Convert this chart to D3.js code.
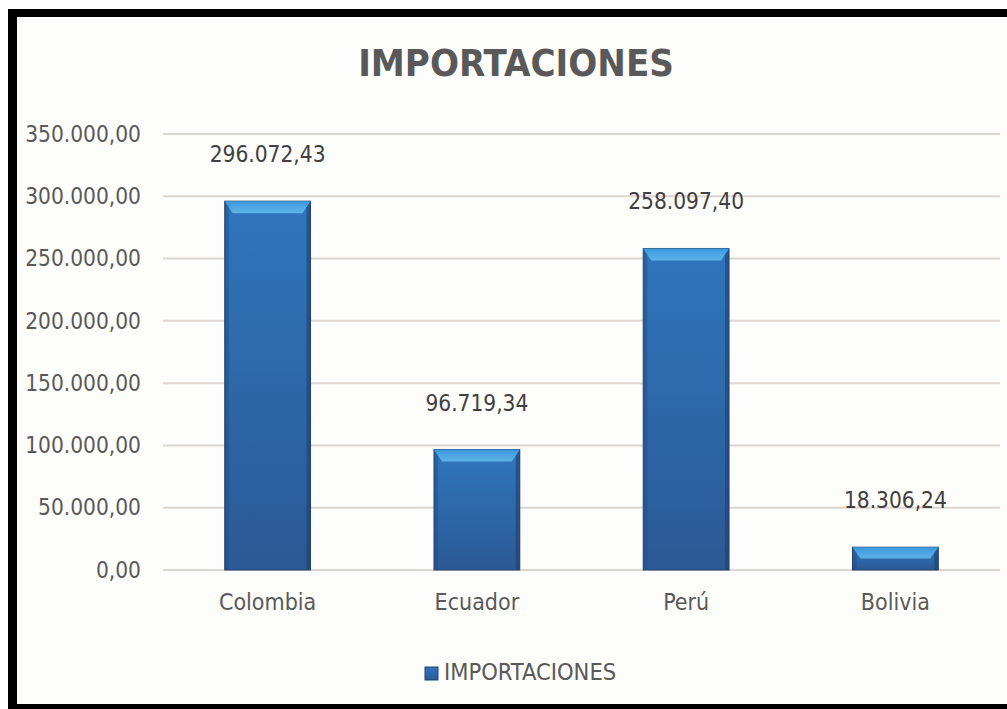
<!DOCTYPE html>
<html><head><meta charset="utf-8">
<script src="https://cdn.jsdelivr.net/npm/d3@7"></script>
<style>
html,body{margin:0;padding:0;background:#fff;}
svg{display:block;}
text{font-family:"Liberation Sans Narrow","DejaVu Sans Condensed","Open Sans",sans-serif;}
</style></head><body>
<svg id="c" width="1007" height="709"></svg>
<script>
const categories = ["Colombia","Ecuador","Perú","Bolivia"];
const values = [296072.43, 96719.34, 258097.40, 18306.24];
const yTicks = [0,50000,100000,150000,200000,250000,300000,350000];
const title = "IMPORTACIONES";
const seriesName = "IMPORTACIONES";

const svg = d3.select("#c");
const W = 1007, H = 709;
const fmt = d3.formatLocale({decimal:",",thousands:".",grouping:[3],currency:["",""]}).format(",.2f");

// frame
svg.append("rect").attr("x",0).attr("y",0).attr("width",W).attr("height",H).attr("fill","#fff");
svg.append("rect").attr("x",8).attr("y",9).attr("width",W-8).attr("height",H-9).attr("fill","#000");
svg.append("rect").attr("x",17).attr("y",17).attr("width",W-17).attr("height",704-17).attr("fill","#fdfdfb");

const m = {left:163, right:1000, top:134, bottom:570};
const x = d3.scaleBand().domain(categories).range([m.left,m.right]).paddingInner(0.59).paddingOuter(0.295);
const y = d3.scaleLinear().domain([0,350000]).range([m.bottom,m.top]);

// gridlines
svg.append("g").selectAll("line").data(yTicks).join("line")
  .attr("x1",m.left).attr("x2",m.right)
  .attr("y1",d=>y(d)).attr("y2",d=>y(d))
  .attr("stroke","#dcd6d0").attr("stroke-width",2);

// y axis labels
const yAxis = d3.axisLeft(y).tickValues(yTicks).tickFormat(fmt).tickSize(0).tickPadding(0);
const ya = svg.append("g").attr("transform",`translate(${m.left-22},0)`).call(yAxis);
ya.select(".domain").remove();
ya.selectAll("text").attr("fill","#595959").style("font-size","22.5px")
  .style("font-family",'"Liberation Sans Narrow","DejaVu Sans Condensed",sans-serif');

// gradients
const defs = svg.append("defs");
const g1 = defs.append("linearGradient").attr("id","barg").attr("x1",0).attr("y1",0).attr("x2",0).attr("y2",1);
g1.append("stop").attr("offset","0%").attr("stop-color","#2f76bd");
g1.append("stop").attr("offset","100%").attr("stop-color","#2b5995");
const g2 = defs.append("linearGradient").attr("id","bevel").attr("x1",0).attr("y1",0).attr("x2",0).attr("y2",1);
g2.append("stop").attr("offset","0%").attr("stop-color","#3c98dc");
g2.append("stop").attr("offset","100%").attr("stop-color","#5eb3ea");

const bars = svg.append("g").selectAll("g").data(categories).join("g");
const bw = x.bandwidth();
bars.append("rect")
  .attr("x",d=>x(d)).attr("y",(d,i)=>y(values[i]))
  .attr("width",bw).attr("height",(d,i)=>y(0)-y(values[i]))
  .attr("fill","url(#barg)").attr("stroke","#27456f").attr("stroke-width",1);
// side shading
bars.append("rect")
  .attr("x",d=>x(d)).attr("y",(d,i)=>y(values[i]))
  .attr("width",4).attr("height",(d,i)=>y(0)-y(values[i]))
  .attr("fill","#244c80").attr("opacity",0.5);
bars.append("rect")
  .attr("x",d=>x(d)+bw-4).attr("y",(d,i)=>y(values[i]))
  .attr("width",4).attr("height",(d,i)=>y(0)-y(values[i]))
  .attr("fill","#1f3f6c").attr("opacity",0.6);
// top bevel
bars.append("path")
  .attr("d",(d,i)=>{
    const x0=x(d), x1=x(d)+bw, t=y(values[i]), h=Math.min(12,(y(0)-t)*0.5);
    return `M${x0},${t}L${x1},${t}L${x1-8},${t+h}L${x0+8},${t+h}Z`;
  })
  .attr("fill","url(#bevel)");

// value labels
svg.append("g").selectAll("text").data(categories).join("text")
  .attr("x",d=>x(d)+bw/2).attr("y",(d,i)=>y(values[i])-47)
  .attr("text-anchor","middle").attr("dominant-baseline","central")
  .attr("fill","#404040").style("font-size","22.5px")
  .text((d,i)=>fmt(values[i]));

// x axis labels
const xAxis = d3.axisBottom(x).tickSize(0).tickPadding(0);
const xa = svg.append("g").attr("transform",`translate(0,${m.bottom+24})`).call(xAxis);
xa.select(".domain").remove();
xa.selectAll("text").attr("fill","#595959").style("font-size","23px")
  .style("font-family",'"Liberation Sans Narrow","DejaVu Sans Condensed",sans-serif');

// title
svg.append("text").attr("x",516).attr("y",63).attr("text-anchor","middle").attr("dominant-baseline","central")
  .attr("fill","#595959").style("font-size","38px").style("font-weight","bold").text(title);

// legend
const lg = svg.append("g");
lg.append("rect").attr("x",425).attr("y",667).attr("width",13).attr("height",13).attr("fill","url(#barg)").attr("stroke","#27456f");
lg.append("text").attr("x",444).attr("y",672).attr("dominant-baseline","central")
  .attr("fill","#595959").style("font-size","23.5px").text(seriesName);
</script></body></html>
